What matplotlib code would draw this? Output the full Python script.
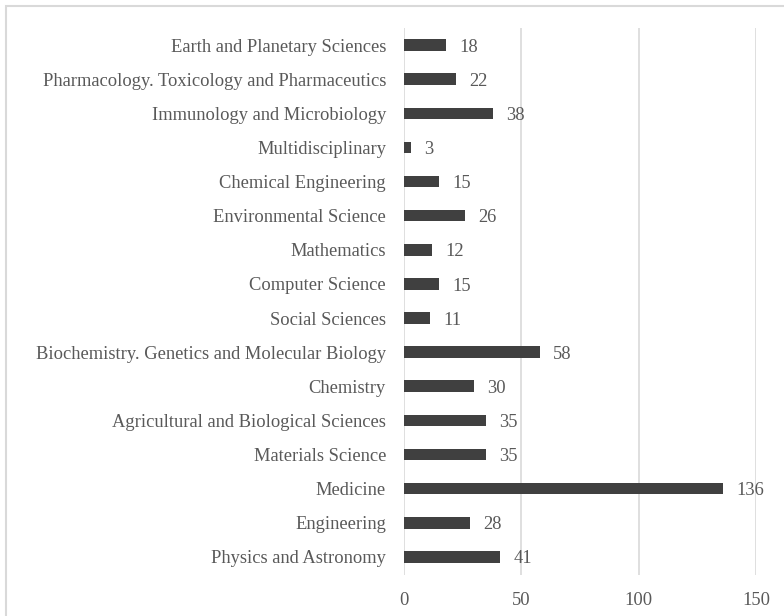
import matplotlib
matplotlib.use("Agg")
import matplotlib.pyplot as plt
from matplotlib.patches import Rectangle

categories = [
    "Physics and Astronomy",
    "Engineering",
    "Medicine",
    "Materials Science",
    "Agricultural and Biological Sciences",
    "Chemistry",
    "Biochemistry. Genetics and Molecular Biology",
    "Social Sciences",
    "Computer Science",
    "Mathematics",
    "Environmental Science",
    "Chemical Engineering",
    "Multidisciplinary",
    "Immunology and Microbiology",
    "Pharmacology. Toxicology and Pharmaceutics",
    "Earth and Planetary Sciences",
]
values = [41, 28, 136, 35, 35, 30, 58, 11, 15, 12, 26, 15, 3, 38, 22, 18]
xticks = [0, 50, 100, 150]

plt.rcParams['font.family'] = ['Liberation Serif', 'DejaVu Serif']
text_color = '#595959'
fs = 13.3

fig = plt.figure(figsize=(7.84, 6.16), dpi=100)
ax = fig.add_axes([404/784, 1 - 575/616, (756 - 404)/784, (575 - 28)/616])

y = list(range(len(categories)))
ax.barh(y, values, height=0.34, color='#404040', zorder=3)
for yi, v in zip(y, values):
    ax.annotate(str(v), (v, yi), xytext=(9.5, -1.5), textcoords='offset points',
                va='center', ha='left', fontsize=fs, color=text_color)

ax.set_xlim(0, 150)
ax.set_ylim(-0.53, 15.5)
ax.set_xticks(xticks)
ax.set_xticklabels([str(t) for t in xticks])
ax.set_yticks(y)
ax.set_yticklabels(categories)
ax.tick_params(axis='both', length=0, labelsize=fs, colors=text_color)
ax.tick_params(axis='y', pad=13)
ax.tick_params(axis='x', pad=12)
ax.xaxis.grid(True, color='#d9d9d9', linewidth=1.2, zorder=0)
for s in ax.spines.values():
    s.set_visible(False)

fig.patches.append(Rectangle((6/784, -0.1), 1.2, 1 - 6/616 + 0.1, transform=fig.transFigure,
                             fill=False, edgecolor='#d9d9d9', linewidth=1.5))

fig.savefig('out.png', dpi=100)
